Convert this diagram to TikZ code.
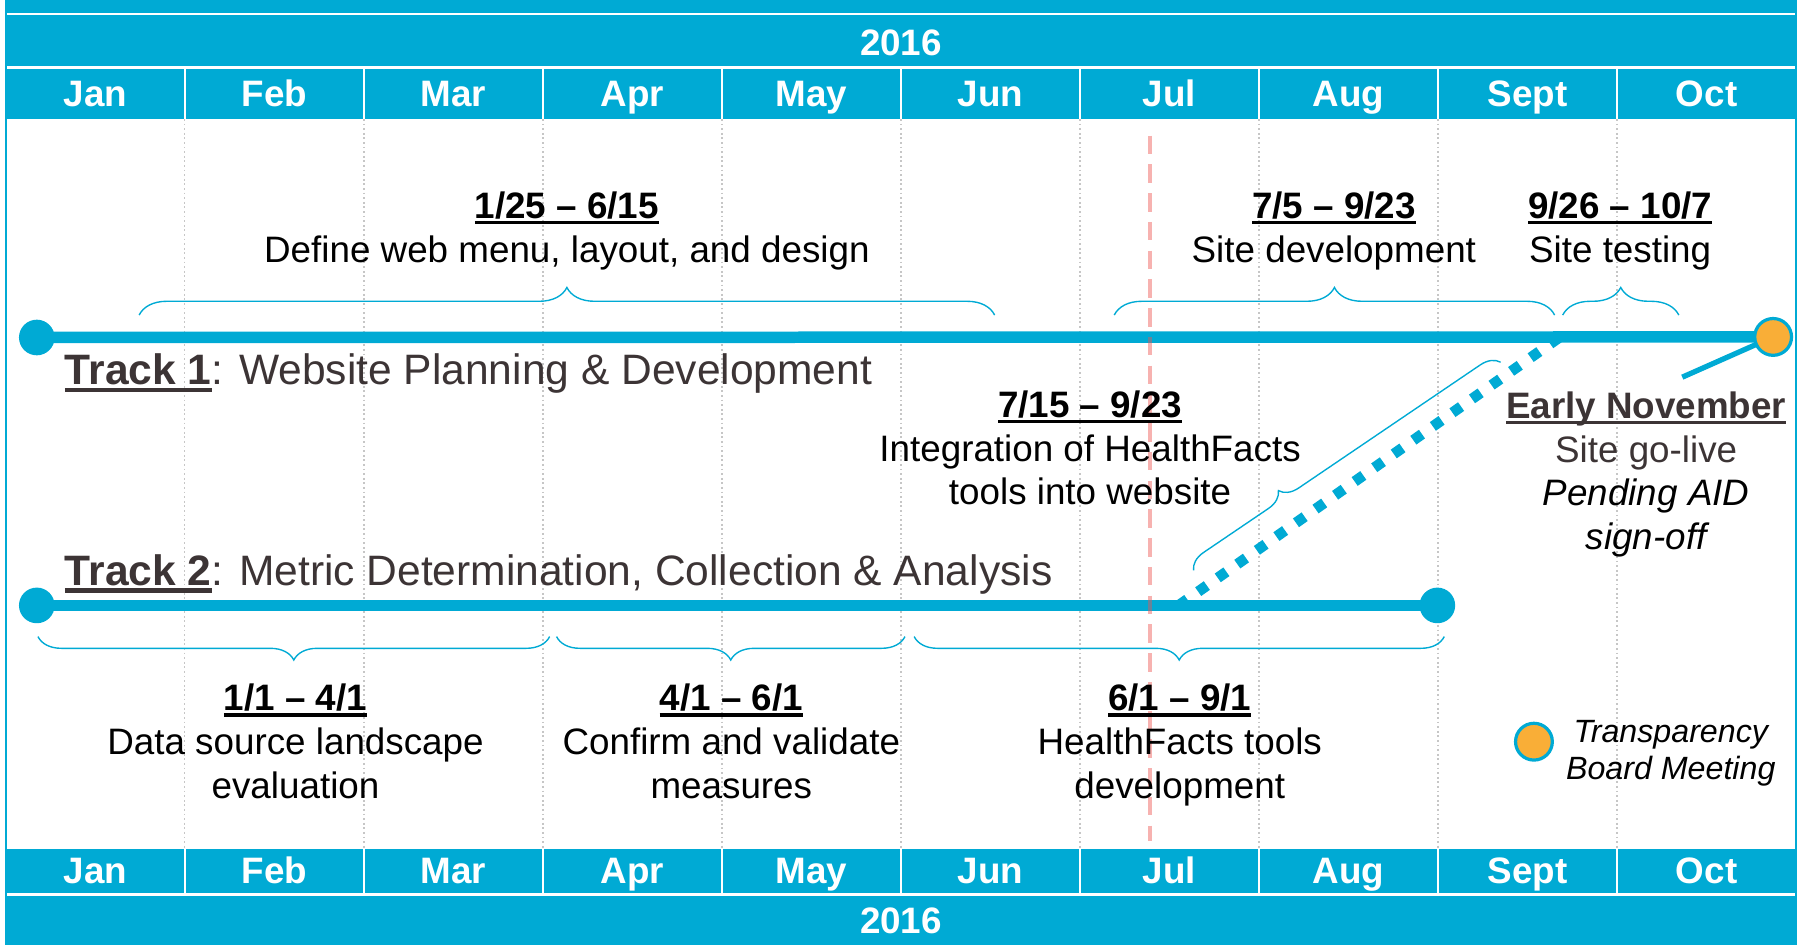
\documentclass[tikz,border=0pt]{standalone}
\usepackage{fontspec}
\setmainfont{Liberation Sans}
\usetikzlibrary{decorations.pathreplacing}

\pgfdeclarelayer{front}
\pgfsetlayers{main,front}

\definecolor{tlblue}{RGB}{0,170,212}
\definecolor{tlorange}{RGB}{249,174,55}
\definecolor{tlred}{RGB}{237,85,80}
\definecolor{tldark}{RGB}{60,52,53}

\newcommand{\ulin}[1]{\setbox0\hbox{#1}\rlap{\rule[-0.16em]{\wd0}{0.1em}}\box0}

\tikzset{
  monthlbl/.style={text=white,anchor=base,font=\fontsize{16}{19}\selectfont\bfseries},
  phase/.style={align=center,anchor=base,inner sep=0pt,font=\fontsize{16}{19}\selectfont},
  tracklbl/.style={text=tldark,anchor=base west,inner sep=0pt,font=\fontsize{18.5}{22}\selectfont},
  endpt/.style={circle,fill=tlblue,minimum size=15.5pt,inner sep=0pt},
  meeting/.style={circle,fill=tlorange,draw=tlblue,line width=1.4pt,minimum size=16pt,inner sep=0pt},
  track/.style={tlblue,line width=5pt},
  tlbrace/.style={draw=tlblue,line width=0.6pt,decorate,decoration={brace,amplitude=#1}},
  tlbrace/.default=12pt,
  grid/.style={gray!45,line width=0.6pt,dash pattern=on 0.8pt off 1.2pt}
}

\begin{document}
\begin{tikzpicture}[x=0.5pt,y=-0.5pt]

\useasboundingbox (0,0) rectangle (1568,821);

\foreach \i in {1,...,9}{
	\draw[grid] ({5+155.7*\i},103.5)--({5+155.7*\i},738.5);
}

\fill[tlblue] (5,0) rectangle (1562,103.5);
\fill[tlblue] (5,738.5) rectangle (1562,821);
\draw[white,line width=1.2pt] (5,12.2)--(1562,12.2);
\draw[white,line width=1.2pt] (5,58.7)--(1562,58.7);
\draw[white,line width=1.2pt] (5,777.8)--(1562,777.8);
\foreach \i in {1,...,9}{
	\draw[white,line width=0.9pt] ({5+155.7*\i},58.7)--({5+155.7*\i},103.5);
	\draw[white,line width=0.9pt] ({5+155.7*\i},738.5)--({5+155.7*\i},777.8);
}
\draw[tlblue,line width=1pt] (5,0) rectangle (1562,821);

\node[monthlbl] (yrtop) at (783.5,48.5) {2016};
\node[monthlbl] (yrbot) at (783.5,811.5) {2016};
\foreach \m [count=\i from 0] in {Jan,Feb,Mar,Apr,May,Jun,Jul,Aug,Sept,Oct}{
	\node[monthlbl] (mt\i) at ({5+155.7*(\i+0.5)},92.8) {\m};
	\node[monthlbl] (mb\i) at ({5+155.7*(\i+0.5)},768) {\m};
}

\begin{pgfonlayer}{front}
\node[endpt] (t1s) at (32,293.5) {};
\node[meeting] (golive) at (1542,293) {};
\node[endpt] (t2s) at (32,526.5) {};
\node[endpt] (t2e) at (1250,526.5) {};
\node[meeting] (legdot) at (1334,645) {};
\end{pgfonlayer}

\coordinate (dlow) at (1025,526.5);
\coordinate (dup) at (1356,293.5);
\coordinate (gonote) at (1463,328);

\draw[tlblue,line width=4.6pt,dash pattern=on 4.6pt off 5.8pt] (dlow)--(dup);
\draw[tlblue,line width=2.3pt] (golive.center)--(gonote);
\draw[track] (t1s.center)--(golive.center);
\draw[track] (t2s.center)--(t2e.center);

\draw[tlred,draw opacity=0.45,line width=1.75pt,dash pattern=on 8pt off 4.5pt] (1000,118)--(1000,731);

\draw[tlbrace] (121,274)--(865,274);
\draw[tlbrace] (969,274)--(1352,274);
\draw[tlbrace] (1359,274)--(1460,274);
\draw[tlbrace=10.2pt,decoration={mirror}] (33,553.6)--(478,553.6);
\draw[tlbrace=10.2pt,decoration={mirror}] (484,553.6)--(787,553.6);
\draw[tlbrace=10.2pt,decoration={mirror}] (795,553.6)--(1256,553.6);
\draw[tlbrace=8pt,decoration={aspect=0.31}] (1038,496)--(1305,315);

\node[phase] (ph1) at (493,228) {\ulin{\bfseries 1/25 -- 6/15}\\Define web menu, layout, and design};
\node[phase] (ph2) at (1160,228) {\ulin{\bfseries 7/5 -- 9/23}\\Site development};
\node[phase] (ph3) at (1409,228) {\ulin{\bfseries 9/26 -- 10/7}\\Site testing};
\node[phase] (ph4) at (948,439) {\ulin{\bfseries 7/15 -- 9/23}\\Integration of HealthFacts\\tools into website};
\node[phase,text=tldark] (golivetxt) at (1431.6,478) {\ulin{\bfseries Early November}\\Site go-live\\{\color{black}\itshape Pending AID}\\{\color{black}\itshape sign-off}};

\node[tracklbl] (trk1) at (56,334.8) {\ulin{\bfseries Track 1}: Website Planning \& Development};
\node[tracklbl] (trk2) at (56,509.5) {\ulin{\bfseries Track 2}: Metric Determination, Collection \& Analysis};

\node[phase] (ph5) at (257,694) {\ulin{\bfseries 1/1 -- 4/1}\\Data source landscape\\evaluation};
\node[phase] (ph6) at (636,694) {\ulin{\bfseries 4/1 -- 6/1}\\Confirm and validate\\measures};
\node[phase] (ph7) at (1026,694) {\ulin{\bfseries 6/1 -- 9/1}\\HealthFacts tools\\development};

\node[phase,font=\fontsize{14}{16}\selectfont\itshape] (legtxt) at (1453,678) {Transparency\\Board Meeting};

\end{tikzpicture}
\end{document}
